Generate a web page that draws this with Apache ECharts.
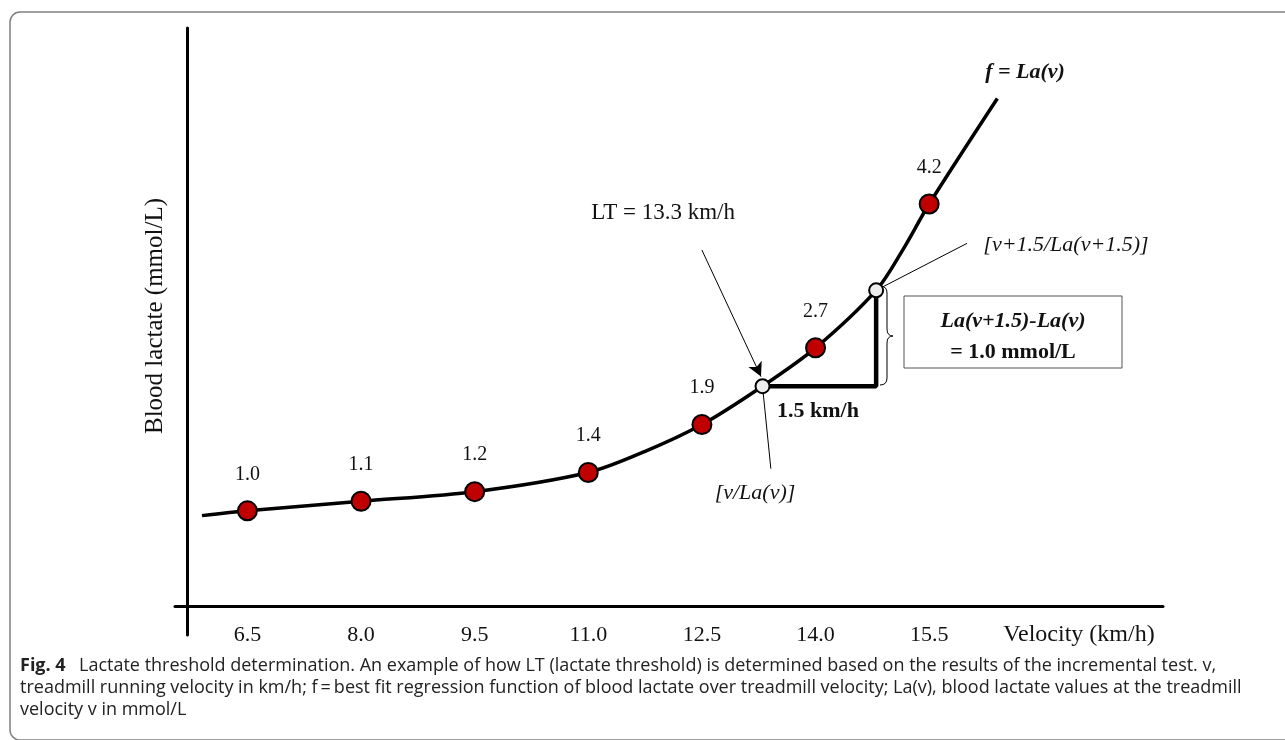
<!DOCTYPE html>
<html>
<head>
<meta charset="utf-8">
<script src="https://cdn.jsdelivr.net/npm/echarts@6/dist/echarts.min.js"></script>
<style>
html,body{margin:0;padding:0;background:#fff;}
#chart{width:1285px;height:740px;}
</style>
</head>
<body>
<div id="chart"></div>
<script>
// Measured points (incremental test)
const velocity = [6.5, 8.0, 9.5, 11.0, 12.5, 14.0, 15.5];
const lactate = [1.0, 1.1, 1.2, 1.4, 1.9, 2.7, 4.2];
// Best-fit curve f = La(v)
const fitVelocity = [5.9, 6.5, 8.0, 9.5, 11.0, 11.75, 12.5, 13.3, 14.0, 14.8, 15.15, 15.5, 16.4];
const fitLactate = [0.95, 1.0, 1.1, 1.2, 1.4, 1.62, 1.9, 2.3, 2.7, 3.3, 3.72, 4.2, 5.3];
// Threshold construction points [v/La(v)] and [v+1.5/La(v+1.5)]
const ltVelocity = [13.3, 14.8];
const ltLactate = [2.3, 3.3];
// x tick labels
const xTickValues = [6.5, 8.0, 9.5, 11.0, 12.5, 14.0, 15.5];
// annotation anchors (data space)
const arrowFrom = [12.5, 3.72];
const arrowTo = [13.28, 2.40];
const leaderLowEnd = [13.41, 1.44];
const leaderHighEnd = [16.0, 3.79];

const SERIF = '"Liberation Serif", "Times New Roman", serif';
const SANS = '"Open Sans", "Noto Sans", sans-serif';
const zip = (a, b) => a.map((v, i) => [v, b[i]]);

const chart = echarts.init(document.getElementById('chart'), null, {renderer: 'canvas'});

const braceStyle = {fill: 'none', stroke: '#000', lineWidth: 1};
const option = {
  animation: false,
  backgroundColor: '#fff',
  grid: {left: 175, right: 122, top: 28, bottom: 105, containLabel: false},
  xAxis: {
    type: 'value', min: 5.544, max: 18.587,
    axisLine: {show: true, onZero: true, lineStyle: {color: '#000', width: 3}},
    axisTick: {show: false},
    splitLine: {show: false},
    axisLabel: {
      customValues: xTickValues,
      formatter: v => Number(v).toFixed(1),
      fontFamily: SERIF, fontSize: 22, color: '#111', margin: -11
    }
  },
  yAxis: {
    type: 'value', min: -0.295, max: 6.036, offset: -12,
    axisLine: {show: true, onZero: false, lineStyle: {color: '#000', width: 3}},
    axisTick: {show: false},
    axisLabel: {show: false},
    splitLine: {show: false}
  },
  series: [
    {
      type: 'line', name: 'f = La(v)', data: zip(fitVelocity, fitLactate),
      smooth: 0.3, showSymbol: false, symbol: 'none',
      lineStyle: {color: '#000', width: 3.5}, z: 2, silent: true
    },
    {
      type: 'line', name: 'threshold', data: zip([ltVelocity[0], ltVelocity[1], ltVelocity[1]], [ltLactate[0], ltLactate[0], ltLactate[1]]),
      showSymbol: false, symbol: 'none',
      lineStyle: {color: '#000', width: 4.5}, z: 3, silent: true,
      markLine: {
        silent: true, symbol: ['none', 'none'], animation: false,
        label: {show: false},
        lineStyle: {color: '#000', width: 1, type: 'solid'},
        data: [
          [{coord: arrowFrom, symbol: 'none'}, {coord: arrowTo, symbol: 'arrow', symbolSize: [11, 14]}],
          [{coord: [ltVelocity[0], ltLactate[0]]}, {coord: leaderLowEnd}],
          [{coord: [ltVelocity[1], ltLactate[1]]}, {coord: leaderHighEnd}]
        ]
      }
    },
    {
      type: 'scatter', name: 'measured', data: zip(velocity, lactate),
      symbolSize: 19,
      itemStyle: {color: '#C00000', borderColor: '#000', borderWidth: 2, opacity: 1},
      label: {
        show: true, position: 'top', distance: 16,
        formatter: p => p.value[1].toFixed(1),
        fontFamily: SERIF, fontSize: 20, color: '#111'
      },
      z: 4
    },
    {
      type: 'scatter', name: 'LT points', data: zip(ltVelocity, ltLactate),
      symbolSize: 14,
      itemStyle: {color: '#eeeeee', borderColor: '#000', borderWidth: 2, opacity: 1},
      z: 5
    }
  ],
  graphic: [
    {type: 'rect', shape: {x: 10, y: 12, width: 1300, height: 728, r: 10},
     style: {fill: 'none', stroke: '#808080', lineWidth: 1.5}, z: 0, silent: true},
    {type: 'text', x: 155, y: 316, rotation: Math.PI / 2, style: {text: 'Blood lactate (mmol/L)', font: '25px ' + SERIF, fill: '#111', textAlign: 'center', textVerticalAlign: 'middle'}},
    {type: 'text', x: 1079, y: 635, style: {text: 'Velocity (km/h)', font: '24px ' + SERIF, fill: '#111', textAlign: 'center', textVerticalAlign: 'middle'}},
    {type: 'text', x: 1025, y: 72, style: {text: 'f = La(v)', font: 'italic bold 22px ' + SERIF, fill: '#111', textAlign: 'center', textVerticalAlign: 'middle'}},
    {type: 'text', x: 735, y: 213, style: {text: 'LT = 13.3 km/h', font: '23px ' + SERIF, fill: '#111', textAlign: 'right', textVerticalAlign: 'middle'}},
    {type: 'text', x: 1066, y: 245, style: {text: '[v+1.5/La(v+1.5)]', font: 'italic 22px ' + SERIF, fill: '#111', textAlign: 'center', textVerticalAlign: 'middle'}},
    {type: 'text', x: 755, y: 493, style: {text: '[v/La(v)]', font: 'italic 22px ' + SERIF, fill: '#111', textAlign: 'center', textVerticalAlign: 'middle'}},
    {type: 'text', x: 818, y: 411, style: {text: '1.5 km/h', font: 'bold 22px ' + SERIF, fill: '#111', textAlign: 'center', textVerticalAlign: 'middle'}},
    {type: 'rect', shape: {x: 904, y: 296, width: 218, height: 72},
     style: {fill: '#fff', stroke: '#555', lineWidth: 1}},
    {type: 'text', x: 1013, y: 321, style: {text: 'La(v+1.5)-La(v)', font: 'italic bold 22px ' + SERIF, fill: '#111', textAlign: 'center', textVerticalAlign: 'middle'}},
    {type: 'text', x: 1013, y: 352, style: {text: '= 1.0 mmol/L', font: 'bold 22px ' + SERIF, fill: '#111', textAlign: 'center', textVerticalAlign: 'middle'}},
    {type: 'bezierCurve', shape: {x1: 880, y1: 286, cpx1: 887, cpy1: 286, x2: 887, y2: 293}, style: braceStyle},
    {type: 'line', shape: {x1: 887, y1: 293, x2: 887, y2: 329}, style: braceStyle},
    {type: 'bezierCurve', shape: {x1: 887, y1: 329, cpx1: 887, cpy1: 336, x2: 893, y2: 336}, style: braceStyle},
    {type: 'bezierCurve', shape: {x1: 893, y1: 336, cpx1: 887, cpy1: 336, x2: 887, y2: 343}, style: braceStyle},
    {type: 'line', shape: {x1: 887, y1: 343, x2: 887, y2: 378}, style: braceStyle},
    {type: 'bezierCurve', shape: {x1: 887, y1: 378, cpx1: 887, cpy1: 385, x2: 880, y2: 385}, style: braceStyle},
    {type: 'text', x: 20, y: 666, style: {text: 'Fig. 4', font: 'bold 18px ' + SANS, fill: '#222', textAlign: 'left', textVerticalAlign: 'middle'}},
    {type: 'text', x: 79, y: 666, style: {text: 'Lactate threshold determination. An example of how LT (lactate threshold) is determined based on the results of the incremental test. v,', font: '18px ' + SANS, fill: '#222', textAlign: 'left', textVerticalAlign: 'middle'}},
    {type: 'text', x: 20, y: 688, style: {text: 'treadmill running velocity in km/h; f\u2009=\u2009best fit regression function of blood lactate over treadmill velocity; La(v), blood lactate values at the treadmill', font: '18px ' + SANS, fill: '#222', textAlign: 'left', textVerticalAlign: 'middle'}},
    {type: 'text', x: 20, y: 710, style: {text: 'velocity v in mmol/L', font: '18px ' + SANS, fill: '#222', textAlign: 'left', textVerticalAlign: 'middle'}}
  ]
};
chart.setOption(option);
</script>
</body>
</html>
